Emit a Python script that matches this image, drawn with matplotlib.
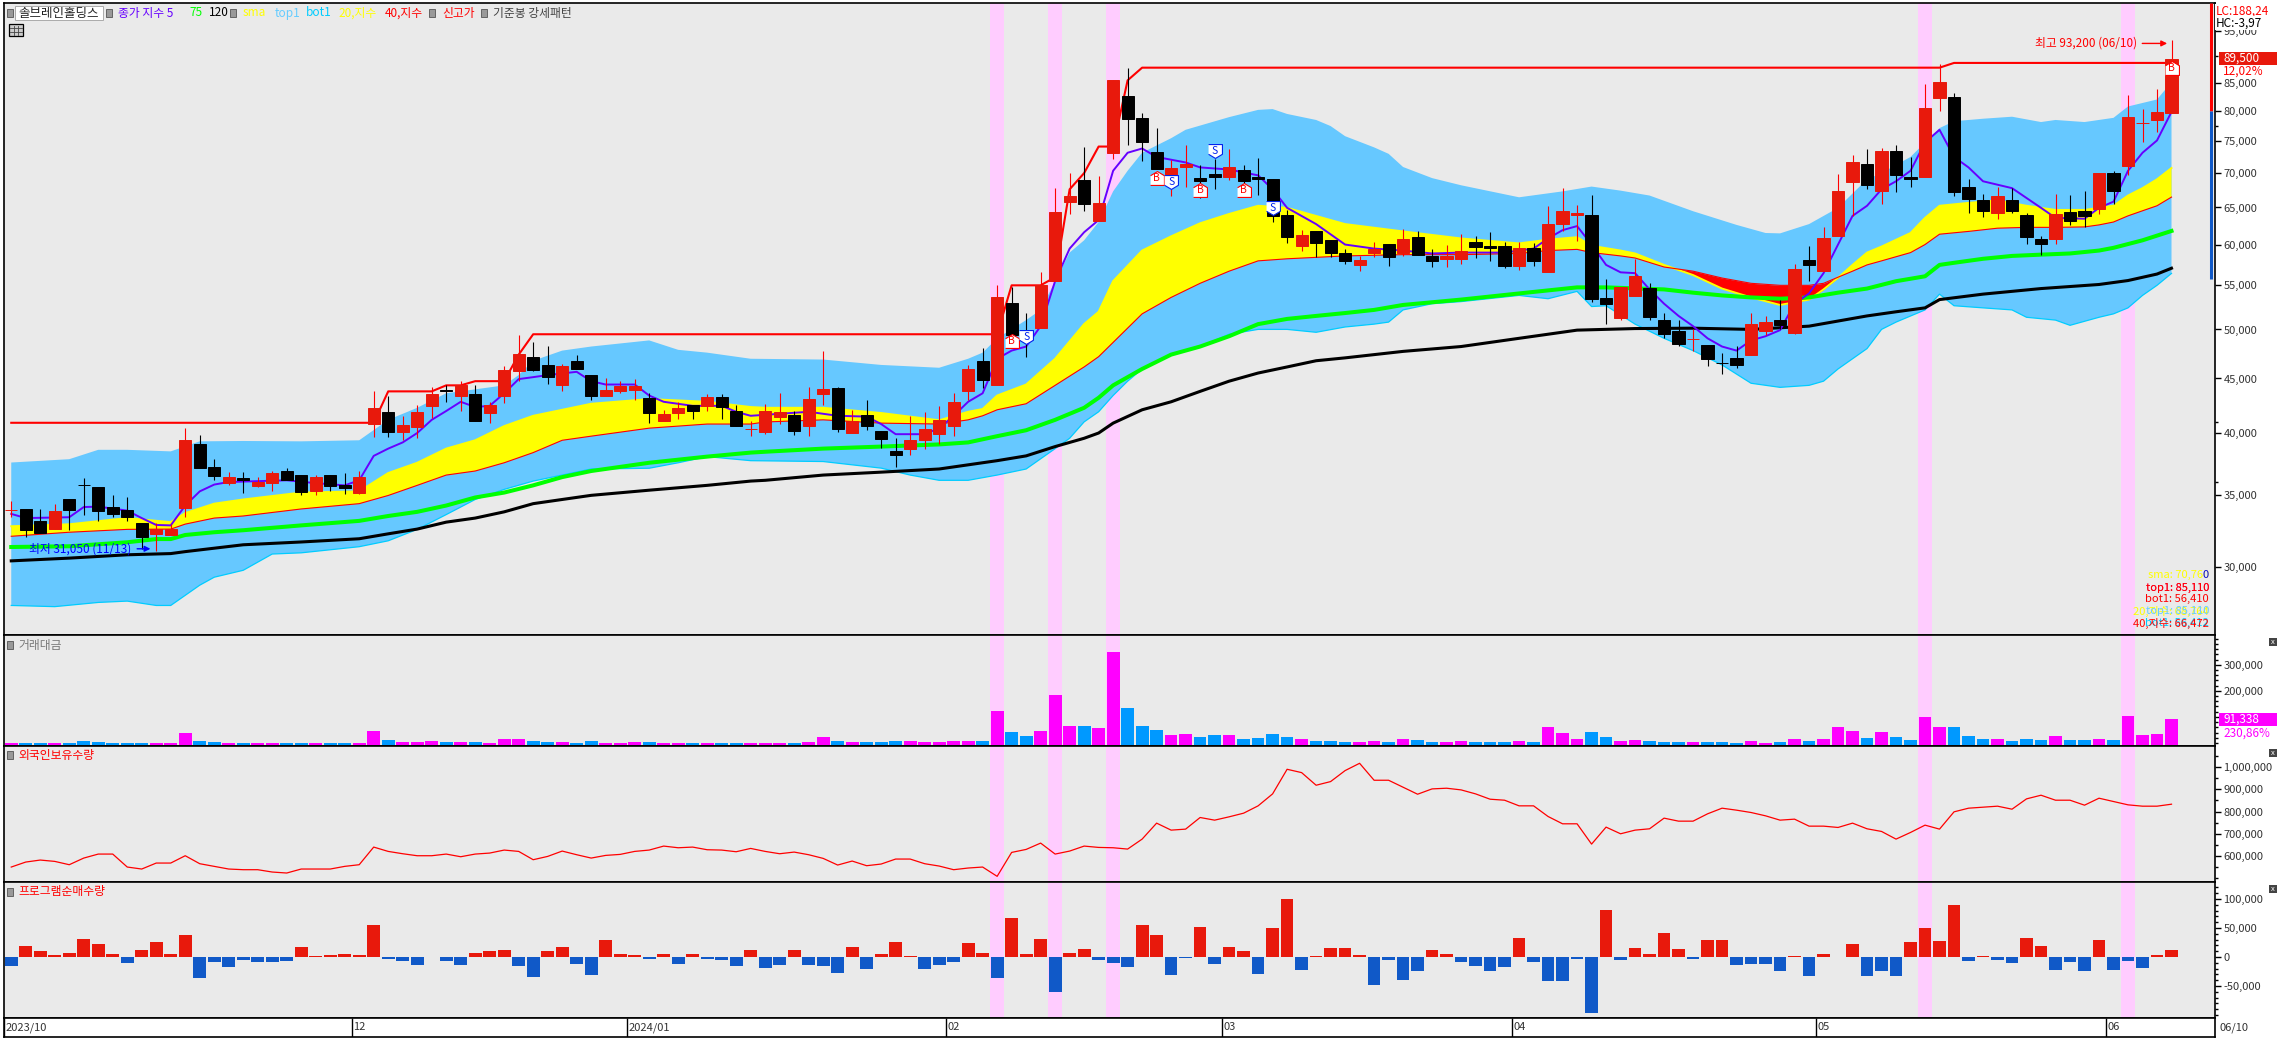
import matplotlib
matplotlib.use("Agg")
import matplotlib.pyplot as plt
from matplotlib.lines import Line2D
from matplotlib.patches import Rectangle
from matplotlib.ticker import FixedLocator, FuncFormatter, MultipleLocator, NullFormatter

plt.rcParams['font.family'] = ['Noto Sans CJK KR', 'DejaVu Sans']

W = 2285
H = 1039

# candles, one value per trading day
opens = [33930, 34000, 33130, 32580, 34720, 35810, 35630, 34130, 33930, 32980,
         32190, 32140, 34080, 39050, 37200, 35930, 36340, 35700, 35930, 36880,
         36560, 35330, 36560, 35760, 35140, 40800, 41890, 40090, 40510, 42390,
         43860, 43380, 43540, 41780, 43380, 45730, 47120, 46330, 44340, 46750,
         45330, 43380, 43850, 43890, 43130, 41030, 41780, 42540, 42390, 43200,
         41960, 40370, 40090, 41390, 41600, 40620, 43510, 44110, 40020, 41600,
         40160, 38470, 38700, 39460, 39920, 40620, 43770, 46750, 44340, 52950,
         49280, 50140, 55500, 65820, 68890, 63090, 73090, 82620, 78820, 73310,
         69650, 70850, 69300, 69830, 69470, 70470, 69410, 69060, 63900, 59860,
         61850, 60650, 58990, 57400, 58880, 60130, 58880, 61030, 58520, 58150,
         58150, 60340, 59810, 59860, 57300, 59600, 56640, 62720, 64000, 63900,
         53560, 51240, 53710, 54700, 51020, 49880, 48970, 48410, 46540, 47040,
         47370, 49830, 50980, 49660, 58100, 56740, 61090, 68650, 71300, 67400,
         73340, 69470, 69350, 82340, 82490, 67990, 66000, 64170, 66110, 63900,
         60710, 60710, 64340, 64480, 64720, 69960, 71130, 77950, 78400, 79700]
closes = [33930, 32470, 32270, 33840, 33900, 35800, 33840, 33600, 33430, 31970,
          32550, 32530, 39400, 37130, 36460, 36400, 36180, 36020, 36720, 36180,
          35240, 36400, 35700, 35540, 36400, 42210, 40090, 40730, 41890, 43540,
          43850, 44340, 41030, 42500, 45850, 47450, 45810, 45130, 46210, 45890,
          43380, 43930, 44260, 44260, 41820, 41710, 42250, 41960, 43200, 42320,
          40620, 40370, 42000, 41890, 40190, 43050, 43960, 40370, 41030, 40620,
          39500, 38200, 39460, 40330, 41130, 42800, 45890, 44860, 53660, 49400,
          48840, 54980, 64390, 66690, 65530, 65700, 85440, 78670, 74760, 70600,
          70790, 71300, 68770, 69470, 70910, 68770, 69180, 63840, 61030, 61210,
          60170, 58880, 57900, 58100, 59400, 58420, 60710, 58630, 57950, 58570,
          59180, 59760, 59550, 57300, 59600, 57900, 62780, 64550, 64170, 53420,
          52850, 54840, 56100, 51370, 49570, 48490, 48970, 46900, 46530, 46290,
          50630, 50770, 50450, 56980, 57400, 60930, 67400, 71610, 68180, 73340,
          69770, 69060, 80540, 85200, 67170, 66230, 64480, 66690, 64480, 61030,
          60130, 64100, 63090, 63770, 69960, 67340, 78900, 77950, 79900, 89500]
highs = [34600, 34000, 34020, 34380, 34720, 36340, 35630, 35020, 34840, 32980,
         32980, 32900, 40440, 39880, 37870, 36820, 36820, 36400, 36880, 37130,
         36560, 36560, 36560, 36720, 36880, 43760, 43380, 41530, 42540, 44220,
         44340, 44740, 44340, 42800, 46250, 49400, 48700, 48280, 46450, 47290,
         45330, 45090, 44740, 44940, 43590, 42070, 42800, 42540, 43540, 43540,
         42500, 41030, 42620, 43590, 41960, 44150, 47700, 44220, 42070, 42970,
         40160, 39570, 41530, 41890, 42430, 43590, 46330, 48070, 54980, 54740,
         51800, 56520, 67760, 69990, 74100, 69590, 85440, 87700, 79640, 77060,
         72050, 74420, 71230, 72180, 73790, 71230, 72320, 69060, 64660, 61910,
         61850, 60650, 59500, 58570, 60290, 60130, 62070, 61740, 59400, 60020,
         61370, 61090, 61630, 60290, 60290, 60170, 65240, 67760, 65410, 66800,
         55750, 54840, 58210, 55270, 51840, 51020, 50010, 48410, 47530, 48280,
         51790, 51480, 53320, 57550, 59860, 62390, 69900, 72700, 73790, 73930,
         74420, 72460, 84830, 88560, 83070, 69060, 66980, 67990, 67710, 64230,
         61090, 66980, 66800, 67410, 69960, 70340, 82700, 80400, 83800, 93200]
lows = [33400, 31970, 32270, 32580, 32470, 33580, 33100, 33400, 33110, 31200,
        31050, 32140, 33430, 37130, 36150, 35760, 35140, 35600, 35300, 36180,
        35050, 35000, 35300, 35090, 35090, 39670, 39670, 39460, 39570, 41350,
        42800, 42000, 41030, 40860, 42720, 44740, 45730, 44460, 43850, 45890,
        42930, 43310, 43590, 42970, 40860, 41030, 41280, 41280, 41960, 41280,
        40620, 39750, 39920, 40800, 39810, 39750, 42540, 40090, 40020, 40270,
        38770, 37170, 38170, 38700, 39120, 39750, 42930, 44070, 44340, 49060,
        47140, 50140, 55500, 64100, 64480, 63090, 72180, 74420, 71860, 70600,
        66690, 67880, 66400, 67590, 68950, 66690, 66750, 63000, 60170, 59250,
        58470, 58470, 57550, 56740, 58470, 57350, 58570, 58630, 57140, 57140,
        57550, 58360, 57950, 57040, 56790, 57350, 56540, 61740, 60440, 53040,
        50540, 51020, 53710, 51020, 49060, 48280, 47780, 46250, 45410, 46050,
        47370, 49400, 50010, 49490, 55550, 56740, 61090, 63840, 67590, 65530,
        67160, 67880, 69350, 80070, 66690, 64170, 63680, 63370, 64230, 60130,
        58730, 60130, 62560, 62390, 64100, 65530, 69650, 74760, 76450, 79700]

# price overlays, read at the days where the line changes direction
ma5_x = [0, 1, 4, 5, 6, 8, 9, 10, 11, 12, 13, 14, 15, 19, 21, 23, 24, 25, 26, 27, 28, 29, 30, 31, 32, 33, 34,
         35, 36, 37, 39, 40, 41, 43, 44, 45, 47, 49, 50, 51, 53, 55, 57, 59, 60, 61, 63, 64, 65, 66, 67, 68,
         69, 70, 71, 72, 73, 74, 75, 76, 77, 78, 79, 81, 82, 84, 86, 87, 88, 90, 92, 94, 96, 98, 100, 103,
         104, 105, 106, 107, 108, 109, 110, 111, 112, 113, 114, 115, 116, 117, 118, 119, 120, 121, 122, 123,
         124, 125, 126, 127, 128, 129, 130, 131, 132, 133, 134, 135, 136, 138, 140, 141, 143, 144, 145, 146,
         147, 148, 149]
ma5 = [33630, 33330, 33390, 34130, 34160, 33870, 33330, 32840, 32810, 34240, 35300, 35820, 36020, 36150, 35930,
       35760, 36150, 38100, 38700, 39220, 40020, 41170, 41960, 42800, 42320, 42430, 43590, 44940, 45130, 45330,
       45650, 44740, 44420, 44420, 43380, 42800, 42430, 42430, 41890, 41530, 41710, 41890, 41530, 41460, 40800,
       39920, 39920, 40440, 41530, 42800, 43590, 46950, 47780, 48200, 50360, 55480, 59500, 61630, 63270, 70340,
       73120, 73790, 72460, 71610, 70850, 70530, 69650, 67590, 64950, 62720, 60020, 59500, 59250, 58880, 58990,
       58990, 59250, 59500, 60810, 61910, 62450, 60020, 57450, 56540, 56440, 54500, 52850, 51480, 50360, 49060,
       48200, 47780, 48840, 49280, 49930, 52850, 54030, 56440, 60020, 63840, 65240, 67590, 68770, 70340, 74760,
       76820, 72460, 70850, 68770, 67760, 64950, 63560, 63450, 64950, 65820, 70340, 73120, 75080, 79840]

ma75_x = [0, 4, 8, 10, 11, 12, 14, 16, 20, 24, 26, 28, 30, 32, 34, 36, 38, 40, 44, 48, 51, 52, 56, 60, 64, 66, 68,
          70, 72, 74, 75, 76, 78, 80, 82, 84, 86, 88, 90, 92, 94, 96, 100, 104, 108, 110, 114, 116, 118, 120,
          122, 124, 126, 128, 130, 132, 133, 134, 136, 138, 140, 142, 144, 145, 147, 149]
ma75 = [31320, 31370, 31640, 31860, 31860, 32140, 32330, 32470, 32810, 33130, 33480, 33780, 34240, 34840, 35210,
        35760, 36400, 36880, 37540, 38040, 38370, 38440, 38700, 38870, 39050, 39220, 39750, 40260, 41170, 42250,
        43170, 44340, 45930, 47370, 48200, 49280, 50580, 51150, 51480, 51800, 52150, 52710, 53320, 54030, 54740,
        54740, 54500, 54120, 53800, 53570, 53420, 53570, 54120, 54600, 55470, 56060, 57450, 57710, 58210, 58570,
        58730, 58880, 59250, 59600, 60570, 61800]

ma120_x = [0, 4, 8, 11, 12, 16, 20, 24, 26, 28, 30, 32, 34, 36, 38, 40, 44, 48, 51, 52, 56, 60, 64, 68, 70, 72, 74,
           75, 76, 78, 80, 82, 84, 86, 88, 90, 92, 96, 100, 104, 108, 112, 116, 120, 124, 128, 130, 132, 133, 136,
           140, 144, 146, 148, 149]
ma120 = [30400, 30580, 30800, 30880, 31010, 31470, 31660, 31880, 32220, 32550, 33040, 33330, 33780, 34380, 34690,
         35000, 35390, 35760, 36090, 36150, 36560, 36790, 37040, 37710, 38100, 38870, 39570, 40020, 40880, 42070,
         42800, 43770, 44740, 45530, 46130, 46750, 47040, 47700, 48200, 49060, 49930, 50100, 50140, 50010, 50360,
         51480, 51940, 52380, 53320, 53950, 54600, 55080, 55550, 56330, 57040]

top1_x = [0, 4, 6, 8, 11, 13, 16, 20, 24, 26, 28, 30, 32, 34, 35, 36, 38, 40, 44, 46, 48, 51, 56, 60, 64, 66, 67, 68,
          70, 71, 72, 73, 74, 75, 76, 77, 78, 80, 81, 84, 86, 87, 88, 90, 91, 92, 94, 95, 96, 98, 100, 104, 107,
          109, 111, 113, 116, 119, 121, 122, 124, 126, 127, 128, 129, 130, 131, 132, 133, 134, 136, 138, 140, 141,
          143, 145, 146, 148, 149]
top1 = [37560, 37830, 38600, 38600, 38470, 39310, 39340, 39310, 39400, 41170, 42250, 43590, 43960, 44340, 45330,
        46750, 47780, 48200, 48840, 47860, 47570, 46950, 46870, 46330, 46050, 46950, 47570, 49060, 51020, 52150,
        55480, 58990, 60570, 63000, 67290, 70340, 73120, 75440, 76820, 78940, 80180, 80320, 79480, 78460, 77440,
        75770, 73970, 72950, 70910, 69240, 68180, 66440, 67290, 67990, 67400, 66690, 64480, 62610, 61530, 61480,
        62720, 64950, 66980, 69060, 69990, 71230, 72460, 74760, 77100, 78250, 78670, 79010, 78110, 78460, 78110,
        78820, 80770, 81990, 85110]

bot1_x = [0, 3, 6, 8, 10, 11, 13, 14, 16, 18, 20, 24, 26, 28, 30, 32, 34, 36, 38, 40, 44, 46, 48, 51, 56, 60, 62, 64,
          66, 68, 70, 72, 73, 74, 75, 76, 77, 78, 80, 82, 84, 86, 88, 90, 92, 94, 95, 96, 98, 100, 104, 106, 108,
          109, 110, 112, 114, 116, 118, 120, 122, 124, 125, 126, 127, 128, 129, 130, 132, 133, 134, 136, 138, 139,
          141, 142, 144, 145, 146, 147, 148, 149]
bot1 = [27620, 27550, 27800, 27880, 27620, 27620, 28850, 29350, 29790, 30850, 30930, 31340, 31740, 32530, 33580,
        34690, 35450, 36090, 36560, 37040, 37100, 37540, 38040, 37710, 37640, 37110, 36560, 36150, 36150, 36560,
        37040, 38700, 39570, 40990, 41890, 43380, 44740, 45930, 47370, 48200, 49490, 50010, 50010, 49700, 50270,
        50580, 50800, 52150, 52850, 53090, 53800, 53420, 54270, 52530, 52620, 50580, 49060, 47780, 46330, 44540,
        44150, 44340, 44740, 45930, 46950, 47990, 50010, 50800, 52150, 53950, 52620, 52380, 52150, 51330, 51020,
        50450, 51330, 51710, 52380, 53800, 54980, 56410]

band_x = [0, 4, 8, 11, 12, 14, 16, 20, 24, 26, 28, 30, 32, 34, 36, 38, 40, 44, 48, 51, 52, 56, 60, 64, 66, 67, 68, 70,
          72, 74, 75, 76, 78, 80, 82, 84, 86, 88, 92, 96, 100, 104, 106, 108, 109, 111, 112, 114, 116, 118, 120, 122,
          124, 125, 126, 127, 128, 129, 131, 132, 133, 135, 137, 139, 141, 143, 144, 145, 146, 147, 148, 149]
sma = [32750, 32890, 33330, 33040, 33690, 34380, 34690, 35210, 35300, 36720, 37540, 38700, 39400, 40620, 41530, 42070,
       42620, 43050, 42800, 42320, 42250, 42250, 41780, 41130, 41890, 42140, 43380, 44420, 46950, 50590, 51940, 55480,
       59250, 61090, 62830, 64100, 65240, 64950, 62720, 61740, 60810, 60170, 60650, 60980, 59860, 59250, 58880, 57450,
       56210, 54600, 53570, 52710, 53320, 54500, 55880, 57450, 58990, 59760, 61530, 63560, 65240, 65650, 66000, 65240,
       64660, 64660, 64950, 65240, 66690, 67760, 69060, 70760]
ema40 = [32050, 32330, 32530, 32550, 32900, 33330, 33480, 33990, 34380, 34990, 35760, 36560, 36880, 37540, 38370, 39400,
         39750, 40440, 40800, 40800, 40980, 41170, 40880, 40800, 41170, 41530, 42070, 42620, 44340, 46130, 47160, 48630,
         51710, 53570, 55220, 56680, 57950, 58210, 58570, 58730, 58730, 58880, 59250, 59400, 58990, 58570, 58310, 57190,
         56680, 55850, 55220, 54980, 54980, 55220, 55950, 56680, 57450, 57950, 58990, 60020, 61370, 61740, 62170, 62280,
         62280, 62340, 62610, 63000, 63840, 64540, 65240, 66472]

new_high_x = [0, 25, 26, 29, 30, 31, 32, 34, 35, 36, 68, 69, 71, 72, 73, 74, 75, 76, 77, 78, 133, 134, 149]
new_high = [40910, 40910, 43770, 43770, 44340, 44340, 44740, 44740, 47370, 49490, 49490, 54980, 54980, 55950, 67590,
            69990, 74100, 74100, 85440, 87800, 87800, 88700, 88700]

# lower panels
turnover = [500, 500, 500, 500, 500, 7700, 3850, 500, 500, 500, 500, 500, 38500, 7700, 3850, 500, 500, 100, 500, 500,
            500, 500, 500, 500, 500, 46200, 11500, 3850, 3850, 7700, 3850, 3850, 3850, 500, 15400, 15400, 7700, 3850,
            3850, 500, 7700, 500, 500, 3850, 3850, 500, 500, 500, 500, 500, 500, 500, 500, 500, 500, 3850, 23100, 7700,
            3850, 3850, 3850, 7700, 7700, 3850, 3850, 7700, 7700, 7700, 123000, 42300, 26900, 46200, 184600, 65400,
            65400, 57700, 350000, 134600, 65400, 50000, 30800, 34600, 23100, 30800, 30800, 15400, 19200, 34600, 23100,
            15400, 7700, 7700, 3850, 3850, 7700, 3850, 15400, 11500, 3850, 3850, 7700, 3850, 3850, 3850, 7700, 3850,
            61500, 38500, 15400, 42300, 23100, 7700, 11500, 7700, 3850, 3850, 3850, 3850, 3850, 500, 7700, 500, 3850,
            15400, 7700, 15400, 61500, 46200, 19200, 42300, 23100, 11500, 100000, 61500, 61500, 26900, 15400, 15400,
            7700, 15400, 11500, 26900, 11500, 11500, 15400, 11500, 103800, 30800, 34600, 91338]
foreign = [550750, 573150, 582100, 576100, 561200, 591000, 608950, 608950, 550750, 541800, 568650, 568650, 601500,
           565700, 553750, 541800, 538800, 538800, 528350, 523900, 541800, 541800, 541800, 553750, 561200, 640300,
           620900, 610450, 601500, 601500, 608950, 597000, 608950, 613450, 626900, 620900, 583600, 598500, 622400,
           606000, 591000, 603000, 607500, 620900, 626900, 644800, 637300, 640300, 628400, 626900, 619400, 634300,
           620900, 610450, 617900, 606000, 589600, 559700, 577600, 556700, 564200, 586600, 586600, 565700, 555200,
           538800, 546300, 550750, 509000, 616400, 629850, 658200, 608950, 622400, 644800, 638800, 637300, 631350,
           676100, 747800, 716400, 720900, 773100, 761200, 776100, 792500, 825400, 879100, 989500, 974600, 917900,
           934300, 983600, 1016400, 940300, 940300, 909000, 877600, 901500, 904500, 897000, 879100, 855200, 850700,
           825400, 825400, 777600, 744800, 744800, 653700, 729900, 700000, 716400, 722400, 770200, 756700, 756700,
           789600, 814900, 806000, 795500, 780600, 761200, 765700, 734300, 734300, 728400, 747800, 722400, 710500,
           676100, 706000, 738800, 720900, 798500, 814900, 819400, 823900, 810400, 856700, 873100, 850700, 850700,
           828400, 859700, 844800, 829900, 823900, 823900, 832800]
program = [-15000, 19500, 11000, 4000, 7500, 31600, 23000, 5750, -9800, 12650, 26450, 5750, 38500, -35650, -8050, -16700,
           -4600, -8050, -8050, -6300, 17800, 2300, 4000, 5750, 4000, 55800, -2900, -6300, -13200, 600, -6300, -13200,
           7500, 11000, 12650, -15000, -33900, 11000, 17800, -11500, -30500, 29900, 5750, 4000, -2900, 5750, -11500,
           5750, -2900, -4600, -15000, 12650, -18400, -13200, 12650, -13200, -15000, -27000, 17800, -20100, 5750, 26450,
           2300, -20100, -13200, -8050, 24700, 7500, -35650, 67850, 5750, 31600, -59800, 7500, 14400, -4600, -9800,
           -16700, 55800, 38500, -30500, -1150, 52300, -11500, 17800, 11000, -28750, 50600, 100600, -21850, 2300, 16100,
           16100, 4000, -47700, -4600, -39100, -23600, 12650, 5750, -8050, -15000, -23600, -16700, 33350, -8050, -40800,
           -40800, -2900, -96000, 81650, -4600, 16100, 5750, 42000, 14400, -2900, 29900, 29900, -13200, -11500, -11500,
           -23600, 2300, -32200, 5750, 600, 23000, -32200, -23600, -32200, 26450, 50600, 28200, 90300, -6300, 2300,
           -4600, -9800, 33350, 19500, -21850, -8050, -23600, 29900, -21850, -6300, -18400, 4000, 12650]

highlight_days = [68, 72, 76, 132, 146]
buy_x = [69, 79, 82, 85, 149]
buy_y = [48820, 69300, 67470, 67530, 87700]
sell_x = [70, 80, 83, 87]
sell_y = [49160, 68590, 73460, 64950]

price_ticks = [30000, 35000, 40000, 45000, 50000, 55000, 60000, 65000, 70000, 75000, 80000, 85000, 95000]
price_minor = [36000, 41000, 77500, 90000]
volume_ticks = [100000, 200000, 300000]
foreign_ticks = [600000, 700000, 800000, 900000, 1000000]
program_ticks = [-50000, 0, 50000, 100000]
month_pos = [-0.5, 23.5, 42.5, 64.5, 83.5, 103.5, 124.5, 144.5]
month_labels = ["2023/10", "12", "2024/01", "02", "03", "04", "05", "06"]

header_items = [(15, "솔브레인홀딩스", "#222222"), (118, "종가 지수 5", "#6600FF"), (189, "75", "#00FF00"),
                (209, "120", "#000000"), (243, "sma", "#FFFF00"), (275, "top1", "#66CCFF"),
                (306, "bot1", "#00CCFF"), (338, "20,지수", "#FFFF00"), (385, "40,지수", "#FF0000"),
                (442, "신고가", "#FF0000"), (493, "기준봉 강세패턴", "#444444")]
corner_rows = [(575, "sma: 70,760", "#FFFF00"), (575, "0", "#0000FF"),
               (588, "top1: 85,110", "#FF0066"), (588, "top1: 85,110", "#FF0000"),
               (599, "bot1: 56,410", "#FF0000"),
               (611, "20,지수: 68,764", "#FFFF00"), (611, "top1: 85,110", "#66CCFF"),
               (623, "bot1: 56,412", "#00CCFF"), (623, "40,지수: 66,472", "#FF0000")]

BG = "#EAEAEA"
RED = "#E8190C"
SKY = "#66C8FF"


def comma(v, pos):
    return f"{v:,.0f}"


def make_panel(fig, top, bottom, left=4, right=2215, spans=True):
    ax = fig.add_axes([left / W, 1 - bottom / H, (right - left) / W, (bottom - top) / H])
    ax.set_facecolor(BG)
    ax.set_xlim(-0.5, 152)
    ax.set_xticks([])
    ax.yaxis.tick_right()
    ax.tick_params(axis='y', which='major', length=4, width=1, pad=2, labelsize=8, labelcolor="#333333")
    ax.tick_params(axis='y', which='minor', length=2.5, width=1)
    for s in ax.spines.values():
        s.set_linewidth(1.2)
    if spans:
        for d in highlight_days:
            ax.axvspan(d - 0.48, d + 0.48, color="#FFCCFF", lw=0, zorder=0)
    return ax


def put_text(fig, x, y, s, color, size=8, ha='left', **kw):
    return fig.text(x / W, 1 - y / H, s, color=color, fontsize=size, ha=ha, va='center', **kw)


def put_rect(fig, x, y, w, h, face, edge='none', lw=0.7):
    fig.add_artist(Rectangle((x / W, 1 - (y + h) / H), w / W, h / H, transform=fig.transFigure,
                             facecolor=face, edgecolor=edge, linewidth=lw))


def draw_price(ax):
    days = list(range(len(opens)))
    ax.set_yscale('log')
    ax.set_ylim(25920, 100900)
    ax.yaxis.set_major_locator(FixedLocator(price_ticks))
    ax.yaxis.set_minor_locator(FixedLocator(price_minor))
    ax.yaxis.set_major_formatter(FuncFormatter(comma))
    ax.yaxis.set_minor_formatter(NullFormatter())

    # blue band, top and bottom are read on different days
    xs = top1_x + bot1_x[::-1]
    ys = top1 + bot1[::-1]
    ax.fill(xs, ys, color=SKY, lw=0, zorder=1)
    ax.plot(bot1_x, bot1, color="#00CCFF", lw=0.9, zorder=1.5)

    up = [a >= b for a, b in zip(sma, ema40)]
    down = [not u for u in up]
    ax.fill_between(band_x, sma, ema40, where=up, interpolate=True, color="#FFFF00", lw=0, zorder=2)
    ax.fill_between(band_x, sma, ema40, where=down, interpolate=True, color="#FF0000", lw=0, zorder=2)
    ax.plot(band_x, sma, color="#FFFF00", lw=1.4, zorder=2.1)
    ax.plot(band_x, ema40, color="#FF0000", lw=0.8, zorder=2.2)

    ax.plot(ma75_x, ma75, color="#00FF00", lw=2.9, zorder=2.5)
    ax.plot(ma120_x, ma120, color="black", lw=2.2, zorder=2.6)
    ax.plot(new_high_x, new_high, color="#FF0000", lw=1.5, zorder=2.7)
    ax.plot(ma5_x, ma5, color="#6600FF", lw=1.4, zorder=2.8)

    for i in days:
        rising = closes[i] >= opens[i]
        wick = "#FF0000" if rising else "black"
        body = RED if rising else "black"
        ax.vlines(i, lows[i], highs[i], color=wick, lw=0.8, zorder=3)
        low_edge = min(opens[i], closes[i])
        ax.bar(i, abs(closes[i] - opens[i]), bottom=low_edge, width=0.84, color=body,
               edgecolor=body, linewidth=0.7, zorder=3.1)

    # buy and sell tags
    up_tag = [(-1, -1), (1, -1), (1, 0.4), (0, 1), (-1, 0.4)]
    down_tag = [(-1, 1), (1, 1), (1, -0.4), (0, -1), (-1, -0.4)]
    ax.plot(buy_x, buy_y, ls='none', marker=up_tag, ms=10, mfc='white', mec='#FF0000', mew=0.8, zorder=4)
    ax.plot(sell_x, sell_y, ls='none', marker=down_tag, ms=10, mfc='white', mec='#0022EE', mew=0.8, zorder=4)
    for x, y in zip(buy_x, buy_y):
        ax.text(x, y, "B", color="#FF0000", fontsize=7.5, ha='center', va='center', zorder=5)
    for x, y in zip(sell_x, sell_y):
        ax.text(x, y, "S", color="#0022EE", fontsize=7.5, ha='center', va='center', zorder=5)

    ax.annotate("최저 31,050 (11/13)", xy=(9.6, 31200), xytext=(8.3, 31200), color="#0000FF", fontsize=8.5,
                ha='right', va='center', zorder=5,
                arrowprops=dict(arrowstyle='-|>', color="#0000FF", lw=1, shrinkA=2, shrinkB=0))
    ax.annotate("최고 93,200 (06/10)", xy=(148.7, 92500), xytext=(146.6, 92500), color="#FF0000", fontsize=8.5,
                ha='right', va='center', zorder=5,
                arrowprops=dict(arrowstyle='-|>', color="#FF0000", lw=1, shrinkA=2, shrinkB=0))

    # strip next to the scale
    ax.vlines(151.7, 80000, 100900, color="#FF0000", lw=2.2, zorder=4)
    ax.vlines(151.7, 55700, 80000, color="#1059C8", lw=2.2, zorder=4)


def draw_lower(ax_vol, ax_for, ax_prog):
    days = list(range(len(opens)))
    floor = -7700
    vol_colors = ["#FF00FF" if c >= o else "#0099FF" for o, c in zip(opens, closes)]
    ax_vol.bar(days, [v - floor for v in turnover], bottom=floor, width=0.88, color=vol_colors, zorder=2)
    ax_vol.set_ylim(-11500, 414000)
    ax_vol.yaxis.set_major_locator(FixedLocator(volume_ticks))
    ax_vol.yaxis.set_minor_locator(MultipleLocator(20000))
    ax_vol.yaxis.set_major_formatter(FuncFormatter(comma))

    ax_for.plot(days, foreign, color="#FF0000", lw=0.9, zorder=2)
    ax_for.set_ylim(483600, 1094000)
    ax_for.yaxis.set_major_locator(FixedLocator(foreign_ticks))
    ax_for.yaxis.set_minor_locator(MultipleLocator(50000))
    ax_for.yaxis.set_major_formatter(FuncFormatter(comma))

    prog_colors = [RED if v >= 0 else "#1059C8" for v in program]
    ax_prog.bar(days, program, width=0.88, color=prog_colors, zorder=2)
    ax_prog.set_ylim(-105200, 129300)
    ax_prog.yaxis.set_major_locator(FixedLocator(program_ticks))
    ax_prog.yaxis.set_minor_locator(MultipleLocator(10000))
    ax_prog.yaxis.set_major_formatter(FuncFormatter(comma))


def draw_dates(ax):
    ax.set_facecolor('white')
    ax.set_yticks([])
    ax.set_ylim(0, 1)
    ax.vlines(month_pos, 0, 1, color='black', lw=1)
    for pos, lab in zip(month_pos, month_labels):
        ax.text(pos + 0.1, 0.5, lab, fontsize=8, color="#333333", ha='left', va='center')


def draw_labels(fig):
    put_rect(fig, 15, 6, 88, 14, 'white', '#AAAAAA')
    for x, s, c in header_items:
        put_text(fig, x + (3 if x == 15 else 0), 13, s, c, size=9 if x == 15 else 8.5)
    for x, y in [(10, 13), (109, 13), (233, 13), (432, 13), (484, 13), (10, 645), (10, 755), (10, 892)]:
        put_rect(fig, x - 3, y - 4, 6, 8, '#999999', '#555555', 0.6)

    # small table icon
    put_rect(fig, 9, 24, 14, 12, '#CCCCCC', 'black', 0.9)
    for x in (13.5, 18):
        fig.add_artist(Line2D([x / W, x / W], [1 - 26 / H, 1 - 35 / H], color='#444444', lw=0.6))
    for y in (28, 32):
        fig.add_artist(Line2D([10 / W, 22 / W], [1 - y / H, 1 - y / H], color='#444444', lw=0.6))

    put_text(fig, 18, 645, "거래대금", "#777777", size=8.5)
    put_text(fig, 18, 755, "외국인보유수량", "#FF0000", size=8.5)
    put_text(fig, 18, 892, "프로그램순매수량", "#FF0000", size=8.5)

    for y in (642, 753, 889):
        put_rect(fig, 2269, y - 4, 8, 8, '#444444')
        put_text(fig, 2273, y, "x", 'white', size=5.5, ha='center')

    # values at the right of the scale
    put_text(fig, 2216, 11, "LC:188,24", "#FF0000", size=8.5, bbox=dict(fc='white', ec='none', pad=0.5))
    put_text(fig, 2216, 23, "HC:-3,97", "black", size=8.5, bbox=dict(fc='white', ec='none', pad=0.5))
    put_rect(fig, 2219, 52, 58, 13, RED)
    put_text(fig, 2223, 58.5, "89,500", 'white', size=8.5)
    put_text(fig, 2223, 71, "12,02%", "#FF0000", size=8.5)
    put_rect(fig, 2219, 713, 58, 13, "#FF00FF")
    put_text(fig, 2223, 719.5, "91,338", 'white', size=8.5)
    put_text(fig, 2223, 733, "230,86%", "#FF00FF", size=8.5)

    for y, s, c in corner_rows:
        put_text(fig, 2209, y, s, c, size=8, ha='right')
    put_text(fig, 2220, 1028, "06/10", "#333333")


def main():
    fig = plt.figure(figsize=(W / 100, H / 100), dpi=100, facecolor='white')
    ax_price = make_panel(fig, 3, 635)
    ax_vol = make_panel(fig, 635, 746)
    ax_for = make_panel(fig, 746, 882)
    ax_prog = make_panel(fig, 882, 1018)
    ax_date = make_panel(fig, 1018, 1037, spans=False)

    draw_price(ax_price)
    draw_lower(ax_vol, ax_for, ax_prog)
    draw_dates(ax_date)
    draw_labels(fig)

    fig.savefig("out.png", dpi=100)


if __name__ == "__main__":
    main()
